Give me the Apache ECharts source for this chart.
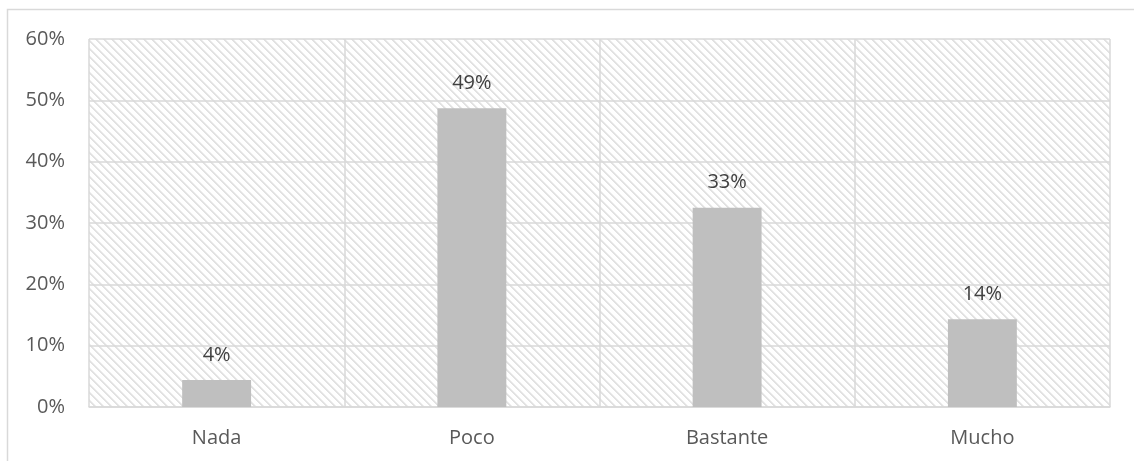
<!DOCTYPE html>
<html>
<head>
<meta charset="utf-8">
<script src="https://cdn.jsdelivr.net/npm/echarts@6/dist/echarts.min.js"></script>
<style>
html,body{margin:0;padding:0;background:#fff;}
#chart{width:1134px;height:461px;}
</style>
</head>
<body>
<div id="chart"></div>
<script>
const categories = ['Nada', 'Poco', 'Bastante', 'Mucho'];
const values = [4.4, 48.7, 32.5, 14.3];
const labels = ['4%', '49%', '33%', '14%'];
const yTicks = [0, 10, 20, 30, 40, 50, 60];

// hatch pattern tile
const tile = document.createElement('canvas');
const N = 8;
tile.width = N; tile.height = N;
const ctx = tile.getContext('2d');
ctx.fillStyle = '#ffffff';
ctx.fillRect(0, 0, N, N);
for (let y = 0; y < N; y++) {
  for (let x = 0; x < N; x++) {
    const d = ((x - y) % N + N) % N;
    if (d === 0 || d === 1) { ctx.fillStyle = '#e2e2e2'; ctx.fillRect(x, y, 1, 1); }
    else if (d === 2) { ctx.fillStyle = '#f0f0f0'; ctx.fillRect(x, y, 1, 1); }
  }
}

const chart = echarts.init(document.getElementById('chart'));
chart.setOption({
  animation: false,
  backgroundColor: '#ffffff',
  textStyle: { fontFamily: 'Open Sans' },
  graphic: [{
    type: 'rect',
    shape: { x: 7.5, y: 9.5, width: 1200, height: 600 },
    style: { fill: 'none', stroke: '#d9d9d9', lineWidth: 1.5 },
    silent: true,
    z: -10
  }],
  grid: {
    left: 89, right: 24, top: 39, bottom: 54,
    show: true,
    backgroundColor: { image: tile, repeat: 'repeat' },
    borderWidth: 0
  },
  xAxis: {
    type: 'category',
    data: categories,
    boundaryGap: true,
    axisLine: { show: true, lineStyle: { color: '#d9d9d9', width: 1.5 } },
    axisTick: { show: false },
    splitLine: { show: true, interval: 0, lineStyle: { color: '#d9d9d9', width: 1.5 } },
    axisLabel: { color: '#595959', fontSize: 20, margin: 21, fontFamily: 'Open Sans', interval: 0 }
  },
  yAxis: {
    type: 'value',
    min: yTicks[0],
    max: yTicks[yTicks.length - 1],
    interval: 10,
    axisLine: { show: false },
    axisTick: { show: false },
    splitLine: { show: true, lineStyle: { color: '#d9d9d9', width: 1.5 } },
    axisLabel: { color: '#595959', fontSize: 20, margin: 24, fontFamily: 'Open Sans', formatter: v => v + '%' }
  },
  series: [{
    type: 'bar',
    data: values,
    barWidth: '27%',
    itemStyle: { color: '#bfbfbf' },
    label: {
      show: true,
      position: 'top',
      distance: 15,
      color: '#404040',
      fontSize: 20,
      fontFamily: 'Open Sans',
      formatter: p => labels[p.dataIndex]
    }
  }]
});
</script>
</body>
</html>
